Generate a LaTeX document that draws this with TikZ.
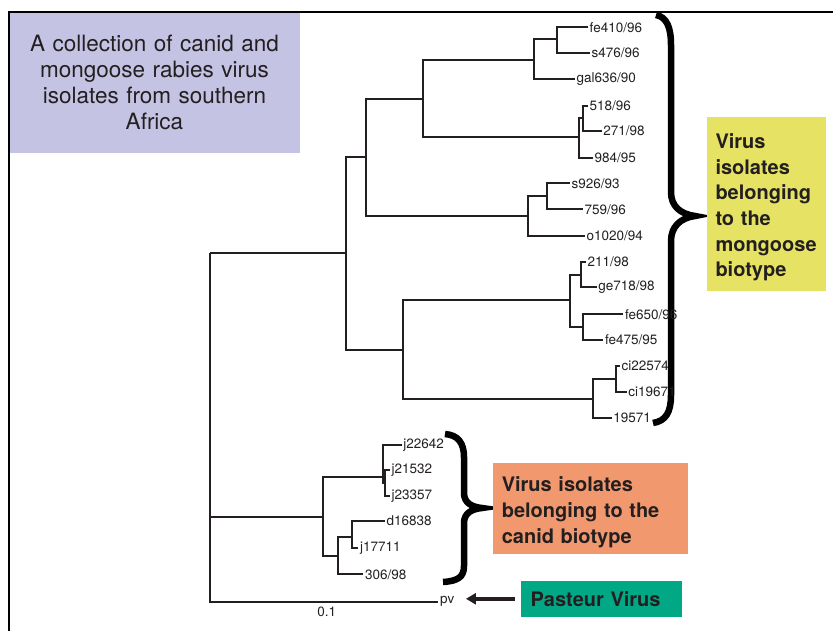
\documentclass[tikz,border=0pt]{standalone}
\usepackage{fontspec}
\setmainfont{TeX Gyre Heros}
\definecolor{boxlavender}{RGB}{197,195,227}
\definecolor{boxyellow}{RGB}{230,227,100}
\definecolor{boxorange}{RGB}{241,152,110}
\definecolor{boxgreen}{RGB}{0,168,134}
\definecolor{inkgray}{RGB}{35,31,32}
\usetikzlibrary{arrows.meta}

\begin{document}
\begin{tikzpicture}[x=1pt, y=-1pt,
    br/.style={line width=1.8pt, draw=inkgray},
    lf/.style={anchor=west, inner sep=1.5pt, font=\fontsize{13.5}{15}\selectfont, text=inkgray},
    lbl/.style={inner sep=0pt, font=\fontsize{20}{25.7}\selectfont\bfseries, text=inkgray, align=left},
    curly/.style={line width=6.5pt, draw=black},
]
    \useasboundingbox (0,0) rectangle (833,631);

    \node[fill=boxlavender, minimum width=291pt, minimum height=141pt, inner sep=0pt, text width=285pt, align=center, font=\fontsize{22.5}{26}\selectfont, text=inkgray] (title) at (154.5,82.5) {A collection of canid and\\mongoose rabies virus\\isolates from southern\\Africa};
    \draw[line width=2pt] (833,12.5) -- (9,12.5) -- (9,631);

    \draw[curly] (656,15) .. controls (667,17) and (671,28) .. (671,45) -- (671,192)
        .. controls (671,206) and (680,214) .. (695,216)
        .. controls (680,218) and (671,227) .. (671,241) -- (671,395)
        .. controls (671,412) and (666,421) .. (653,423);
    \draw[curly] (445,434) .. controls (458,435) and (464,443) .. (464,457) -- (464,493)
        .. controls (464,503) and (472,507) .. (482,508)
        .. controls (472,509) and (464,513) .. (464,523) -- (464,566)
        .. controls (464,577) and (458,581) .. (443,582);

    % mongoose biotype
    \coordinate (a) at (556.7,39.3);
    \coordinate (b) at (534,60);
    \coordinate (c1) at (582.7,118.3);
    \coordinate (c) at (579,137.3);
    \coordinate (d) at (423.3,99.3);
    \coordinate (e) at (546.7,196.3);
    \coordinate (f) at (528.3,215.7);
    \coordinate (g) at (366,156.7);
    \coordinate (h) at (581,275);
    \coordinate (i) at (582.7,326.7);
    \coordinate (j) at (570,300);
    \coordinate (k) at (616,379);
    \coordinate (l) at (593.3,399.3);
    \coordinate (m) at (402.7,350);
    \coordinate (nn) at (346,253.3);
    % canid biotype
    \coordinate (p2) at (385,483);
    \coordinate (p) at (383.3,477);
    \coordinate (r) at (351.7,536.7);
    \coordinate (s) at (338.3,556);
    \coordinate (t) at (322.7,516.7);
    \coordinate (root) at (210,253.3);

    \node[lf] (fe410) at (588,27.3) {fe410/96};
    \node[lf] (s476) at (590,52.7) {s476/96};
    \node[lf] (gal636) at (575,79) {gal636/90};
    \node[lf] (518) at (588,105.7) {518/96};
    \node[lf] (271) at (601.7,131) {271/98};
    \node[lf] (984) at (593,157.7) {984/95};
    \node[lf] (s926) at (570,183.3) {s926/93};
    \node[lf] (759) at (583,209.3) {759/96};
    \node[lf] (o1020) at (585,235.7) {o1020/94};
    \node[lf] (211) at (586,261.7) {211/98};
    \node[lf] (ge718) at (596.7,287.3) {ge718/98};
    \node[lf] (fe650) at (623.3,314.3) {fe650/96};
    \node[lf] (fe475) at (603.3,340) {fe475/95};
    \node[lf] (ci22574) at (620,366) {ci22574};
    \node[lf] (ci19671) at (626.7,391.7) {ci19671};
    \node[lf] (19571) at (611.7,418.3) {19571};
    \node[lf] (j22642) at (401.7,445) {j22642};
    \node[lf] (j21532) at (390,470) {j21532};
    \node[lf] (j23357) at (390,496) {j23357};
    \node[lf] (d16838) at (385,521) {d16838};
    \node[lf] (j17711) at (358.3,547.7) {j17711};
    \node[lf] (306) at (363.3,574.3) {306/98};
    \node[lf] (pv) at (438.3,601.7) {pv};
    \node[font=\fontsize{13.5}{15}\selectfont, text=inkgray] (scale) at (326.7,611.7) {0.1};

    \draw[br] (a) |- (fe410.west);
    \draw[br] (a) |- (s476.west);
    \draw[br] (b) |- (a);
    \draw[br] (b) |- (gal636.west);
    \draw[br] (c1) |- (518.west);
    \draw[br] (c1) |- (271.west);
    \draw[br] (c) |- (c1);
    \draw[br] (c) |- (984.west);
    \draw[br] (d) |- (b);
    \draw[br] (d) |- (c);
    \draw[br] (e) |- (s926.west);
    \draw[br] (e) |- (759.west);
    \draw[br] (f) |- (e);
    \draw[br] (f) |- (o1020.west);
    \draw[br] (g) |- (d);
    \draw[br] (g) |- (f);
    \draw[br] (h) |- (211.west);
    \draw[br] (h) |- (ge718.west);
    \draw[br] (i) |- (fe650.west);
    \draw[br] (i) |- (fe475.west);
    \draw[br] (j) |- (h);
    \draw[br] (j) |- (i);
    \draw[br] (k) |- (ci22574.west);
    \draw[br] (k) |- (ci19671.west);
    \draw[br] (l) |- (k);
    \draw[br] (l) |- (19571.west);
    \draw[br] (m) |- (j);
    \draw[br] (m) |- (l);
    \draw[br] (nn) |- (g);
    \draw[br] (nn) |- (m);
    \draw[br] (p2) |- (j21532.west);
    \draw[br] (p2) |- (j23357.west);
    \draw[br] (p) |- (j22642.west);
    \draw[br] (p) |- (p2);
    \draw[br] (r) |- (d16838.west);
    \draw[br] (r) |- (j17711.west);
    \draw[br] (s) |- (r);
    \draw[br] (s) |- (306.west);
    \draw[br] (t) |- (p);
    \draw[br] (t) |- (s);
    \draw[br] (root) |- (nn);
    \draw[br] (root) |- (t);
    \draw[br] (root) |- (pv.west);

    \node[lbl, fill=boxyellow, minimum width=118.4pt, minimum height=174.3pt, text width=102pt] (mongoose) at (766.5,203.8) {\rule{0pt}{22pt}Virus\\isolates\\belonging\\to the\\mongoose\\biotype};
    \node[lbl, fill=boxorange, minimum width=195pt, minimum height=91pt, text width=178pt] (canid) at (590.8,508.8) {\rule{0pt}{22pt}Virus isolates\\belonging to the\\canid biotype};
    \node[lbl, fill=boxgreen, minimum width=161pt, minimum height=35.7pt, text width=141pt] (pasteur) at (601.2,598.8) {Pasteur Virus};

    \draw[line width=4pt, inkgray, -{Triangle[length=10pt,width=11pt]}, shorten <=6pt, shorten >=10pt] (pasteur.west) -- (pasteur.west -| pv.east);
\end{tikzpicture}
\end{document}
